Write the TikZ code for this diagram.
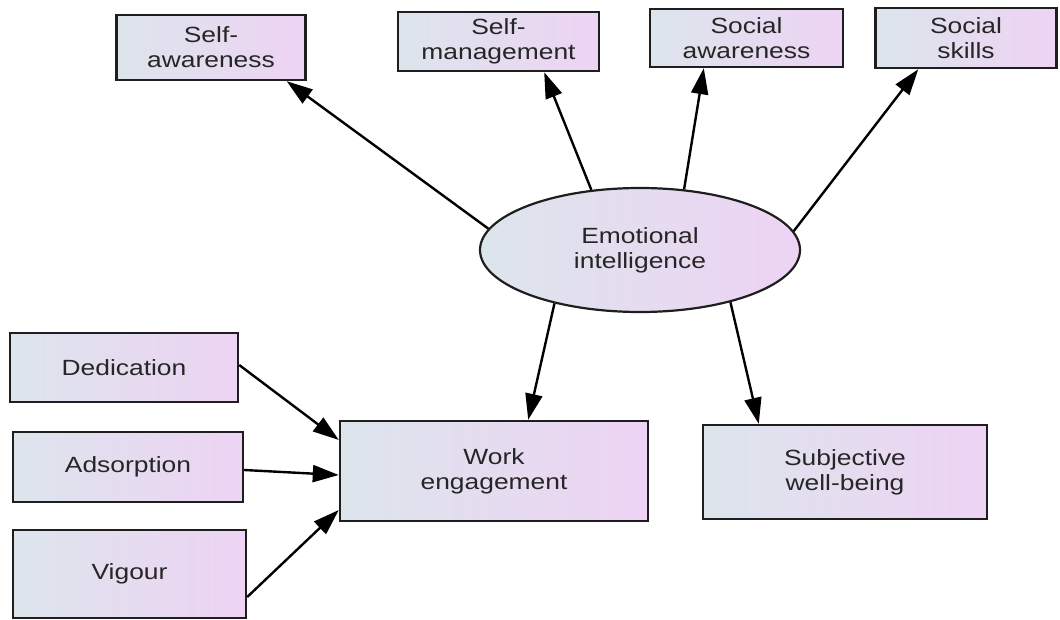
\documentclass[tikz,border=0pt]{standalone}
\usepackage{fontspec}
\setmainfont{Liberation Sans}[FakeStretch=1.2]
\usetikzlibrary{arrows.meta,shapes.geometric,calc}
\definecolor{lcol}{HTML}{DDE5EC}
\definecolor{rcol}{HTML}{EDD3F4}
\definecolor{edge}{HTML}{1E1E1E}
\definecolor{txt}{HTML}{262626}
\tikzset{
  box/.style={draw=edge, line width=2.4pt, rectangle, left color=lcol, right color=rcol,
    align=center, inner sep=0pt, text=txt, font=\fontsize{22}{25}\selectfont},
  oval/.style={draw=edge, line width=2.2pt, ellipse, left color=lcol, right color=rcol,
    align=center, inner sep=0pt, text=txt, font=\fontsize{22}{25}\selectfont,
    minimum width=320pt, minimum height=124pt},
  arr/.style={draw=black, line width=2.4pt, -{Triangle[length=26pt,width=17pt]}},
}
\begin{document}
\begin{tikzpicture}[x=1pt,y=-1pt]
\useasboundingbox (0,0) rectangle (1060,620);
% top row
\node[box, minimum width=189pt, minimum height=65pt] (sa) at (211,47.5) {Self-\\awareness};
\node[box, minimum width=201pt, minimum height=59pt] (sm) at (498.5,41.5) {Self-\\management};
\node[box, minimum width=193pt, minimum height=58pt] (soa) at (746.5,38) {Social\\awareness};
\node[box, minimum width=181pt, minimum height=60pt] (ss) at (966,38) {Social\\skills};
% ellipse
\node[oval] (ei) at (640,250) {Emotional\\intelligence};
% bottom
\node[box, minimum width=308pt, minimum height=100pt] (we) at (494,471) {Work\\engagement};
\node[box, minimum width=284pt, minimum height=94pt] (swb) at (845,472) {Subjective\\well-being};
\node[box, minimum width=228pt, minimum height=69pt] (ded) at (124,367.5) {Dedication};
\node[box, minimum width=230pt, minimum height=70pt] (ads) at (128,467) {Adsorption};
\node[box, minimum width=233pt, minimum height=88pt] (vig) at (129.5,574) {Vigour};
% arrows from EI
\draw[arr] (ei.172.5) -- ([xshift=-20pt]sa.south east);
\draw[arr] (ei.129) -- ([xshift=-56pt]sm.south east);
\draw[arr] (ei.54) -- ([xshift=55pt]soa.south west);
\draw[arr] (ei.7.4) -- ([xshift=44pt]ss.south west);
\draw[arr] (ei.-148) -- ([xshift=-121pt]we.north east);
\draw[arr] (ei.-30.6) -- ([xshift=57pt]swb.north west);
% into work engagement
\draw[arr] ([yshift=2.5pt]ded.east) -- ([yshift=31pt]we.west);
\draw[arr] ([yshift=-3pt]ads.east) -- ([yshift=-4pt]we.west);
\draw[arr] ([yshift=-23pt]vig.east) -- ([yshift=-39pt]we.west);
\end{tikzpicture}
\end{document}
